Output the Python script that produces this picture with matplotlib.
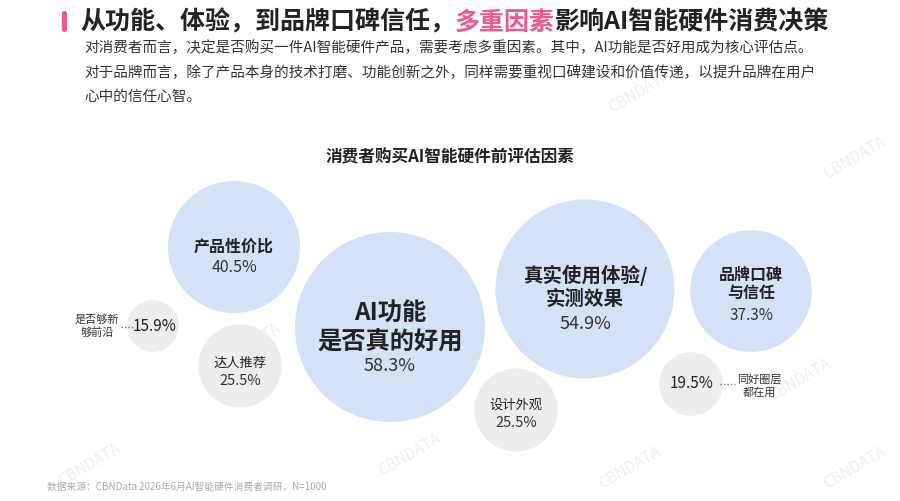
import matplotlib
matplotlib.use('Agg')
import matplotlib.pyplot as plt
import matplotlib.patches as patches

plt.rcParams['font.family'] = ['Noto Sans CJK SC', 'DejaVu Sans']

# data
factors = ['AI功能\n是否真的好用', '真实使用体验/\n实测效果', '产品性价比', '品牌口碑\n与信任',
           '达人推荐', '设计外观', '同好圈层\n都在用', '是否够新\n够前沿']
values = [58.3, 54.9, 40.5, 37.3, 25.5, 25.5, 19.5, 15.9]
highlight = [True, True, True, True, False, False, False, False]

title_parts = ['从功能、体验，到品牌口碑信任，', '多重因素', '影响AI智能硬件消费决策']
body_lines = [
    '对消费者而言，决定是否购买一件AI智能硬件产品，需要考虑多重因素。其中，AI功能是否好用成为核心评估点。',
    '对于品牌而言，除了产品本身的技术打磨、功能创新之外，同样需要重视口碑建设和价值传递，以提升品牌在用户',
    '心中的信任心智。',
]
chart_title = '消费者购买AI智能硬件前评估因素'
source = '数据来源：CBNData 2026年6月AI智能硬件消费者调研，N=1000'

# layout: centre x, centre y, name offset, value offset, name size, value size, bold, label side
layout = [
    (390, 328, 0, 38, 17.5, 13, True, None),
    (585, 290, -3, 34, 14, 13, True, None),
    (234, 248, -1, 20, 11.5, 11.5, True, None),
    (751, 292, -8, 24, 11.5, 11, True, None),
    (240, 367, -4, 14, 9.5, 10.5, False, None),
    (516, 411, -6, 12, 9.5, 10.5, False, None),
    (691, 385, 0, 0, 8, 11, False, 'right'),
    (153, 327, 0, 0, 8, 11, False, 'left'),
]

PINK = '#F2578E'
BLUE = '#D5E1F7'
GREY = '#EDEDED'
TEXT = '#222222'
px_per_pct = 1.63  # bubble radius scale

fig = plt.figure(figsize=(9, 5.02), dpi=100)
ax = fig.add_axes([0, 0, 1, 1])
ax.set_xlim(0, 900)
ax.set_ylim(502, 0)
ax.axis('off')

# faint watermarks
for wx, wy in [(640, 92), (855, 158), (225, 222), (555, 250), (250, 345),
               (800, 380), (90, 465), (410, 455), (630, 468), (855, 468)]:
    ax.text(wx, wy, 'CBNDATA', fontsize=11, color='#EFEFEF', rotation=30,
            ha='center', va='center', zorder=0)

# title
ax.add_patch(patches.FancyBboxPatch((62, 12), 5, 21, boxstyle='round,pad=0,rounding_size=2.5',
                                    facecolor=PINK, edgecolor='none'))
t1 = ax.text(80, 22, title_parts[0], fontsize=18, fontweight='bold', color=TEXT,
             ha='left', va='center')
t2 = ax.annotate(title_parts[1], xy=(1, 0), xycoords=t1, va='bottom', ha='left',
                 fontsize=18, fontweight='bold', color=PINK)
ax.annotate(title_parts[2], xy=(1, 0), xycoords=t2, va='bottom', ha='left',
            fontsize=18, fontweight='bold', color=TEXT)

for i, line in enumerate(body_lines):
    ax.text(84, 48 + i * 24.5, line, fontsize=10.5, color='#333333', ha='left', va='center')

ax.text(450, 157, chart_title, fontsize=12, fontweight='bold', color=TEXT,
        ha='center', va='center')

# bubbles
for name, val, hl, (cx, cy, ndy, vdy, nsz, vsz, bold, side) in zip(
        factors, values, highlight, layout):
    ax.add_patch(patches.Circle((cx, cy), val * px_per_pct,
                                facecolor=BLUE if hl else GREY, edgecolor='none', zorder=1))
    label = f'{val:.1f}%'
    if side is None:
        ax.text(cx, cy + ndy, name, fontsize=nsz, fontweight='bold' if bold else 'normal',
                color=TEXT, ha='center', va='center', linespacing=1.2, zorder=3)
        ax.text(cx, cy + vdy, label, fontsize=vsz, color='#333333',
                ha='center', va='center', zorder=3)
    elif side == 'right':
        ax.text(cx + 1, cy - 1, label, fontsize=vsz, color=TEXT, ha='center', va='center', zorder=3)
        ax.plot([cx + 29, cx + 44], [cy, cy], ls=(0, (1, 1.5)), color='#777777', lw=1, zorder=3)
        ax.text(cx + 68, cy + 1, name, fontsize=nsz, color='#333333', ha='center', va='center',
                linespacing=1.25, zorder=3)
    else:
        ax.text(cx + 2, cy, label, fontsize=vsz, color=TEXT, ha='center', va='center', zorder=3)
        ax.plot([cx - 32, cx - 20], [cy + 1, cy + 1], ls=(0, (1, 1.5)), color='#777777', lw=1, zorder=3)
        ax.text(cx - 56, cy - 1, name, fontsize=nsz, color='#333333', ha='center', va='center',
                linespacing=1.25, zorder=3)

ax.text(47, 487, source, fontsize=7, color='#AAAAAA', ha='left', va='center')

fig.savefig('out.png', dpi=100, facecolor='white')
